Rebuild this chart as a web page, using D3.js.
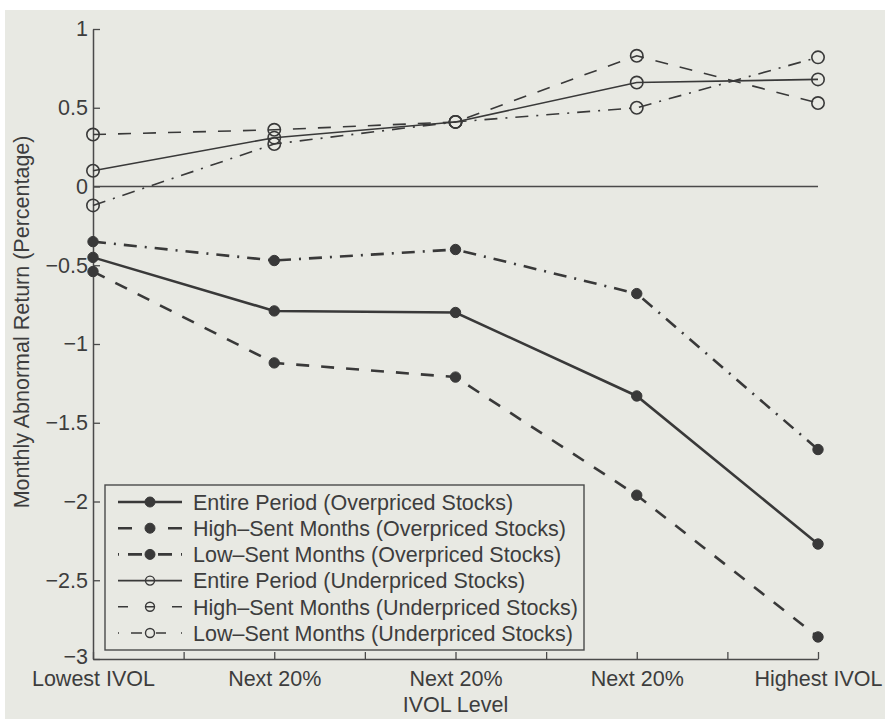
<!DOCTYPE html>
<html>
<head>
<meta charset="utf-8">
<script src="https://cdn.jsdelivr.net/npm/d3@7"></script>
<style>
  html, body { margin: 0; padding: 0; background: #ffffff; }
  svg { display: block; }
  text { font-family: "Liberation Sans", Arial, Helvetica, sans-serif; fill: #3d3d3d; }
</style>
</head>
<body>
<svg id="chart" width="885" height="719"></svg>
<script>
// IVOL quintiles, lowest to highest
const categories = ["Lowest IVOL", "Next 20%", "Next 20%", "Next 20%", "Highest IVOL"];

// Monthly abnormal returns (%), overpriced stocks
const overEntire = [-0.45, -0.79, -0.80, -1.33, -2.27];
const overHigh   = [-0.54, -1.12, -1.21, -1.96, -2.86];
const overLow    = [-0.35, -0.47, -0.40, -0.68, -1.67];

// Monthly abnormal returns (%), underpriced stocks
const underEntire = [0.10, 0.31, 0.41, 0.66, 0.68];
const underHigh   = [0.33, 0.36, 0.41, 0.83, 0.53];
const underLow    = [-0.12, 0.27, 0.41, 0.50, 0.82];

const yTicks = [-3, -2.5, -2, -1.5, -1, -0.5, 0, 0.5, 1];

const seriesNames = [
  "Entire Period (Overpriced Stocks)",
  "High\u2013Sent Months (Overpriced Stocks)",
  "Low\u2013Sent Months (Overpriced Stocks)",
  "Entire Period (Underpriced Stocks)",
  "High\u2013Sent Months (Underpriced Stocks)",
  "Low\u2013Sent Months (Underpriced Stocks)"
];

const ink = "#393939";
const paper = "#e8e9e3";
const fontSize = "21.5px";
const solid = null, dashed = "13,12", dashDot = "13,8,2,8";

// legend samples are 64px long, with the marker in the middle
const series = [
  { name: seriesNames[0], values: overEntire,  dash: solid,   key: null,                     filled: true,  width: 2.6 },
  { name: seriesNames[1], values: overHigh,    dash: dashed,  key: "14,36,14",               filled: true,  width: 2.6 },
  { name: seriesNames[2], values: overLow,     dash: dashDot, key: "1,9,14,16,14,9,1",       filled: true,  width: 2.6 },
  { name: seriesNames[3], values: underEntire, dash: solid,   key: null,                     filled: false, width: 1.6 },
  { name: seriesNames[4], values: underHigh,   dash: dashed,  key: "10,17,10,17,10",         filled: false, width: 1.6 },
  { name: seriesNames[5], values: underLow,    dash: dashDot, key: "1,12,11,14,10,15,1",     filled: false, width: 1.6 }
];

const svg = d3.select("#chart");

// paper background
svg.append("rect").attr("x", 5).attr("y", 10).attr("width", 880).attr("height", 709)
  .attr("fill", paper);

const x = d3.scaleLinear().domain([1, 5]).range([93, 818]);
const y = d3.scaleLinear().domain([-3, 1]).range([659, 29]);

// axes with inward ticks
const xAxis = d3.axisBottom(x)
  .tickValues(d3.range(1, 5.01, 0.5))
  .tickFormat(d => Number.isInteger(d) ? categories[d - 1] : "")
  .tickSizeInner(-7).tickSizeOuter(0).tickPadding(12);

const yAxis = d3.axisLeft(y)
  .tickValues(yTicks)
  .tickFormat(d3.format("~g"))
  .tickSizeInner(-7).tickSizeOuter(0).tickPadding(5);

function styleAxis(g) {
  g.select(".domain").attr("stroke", "#4a4a4a").attr("stroke-width", 1.5);
  g.selectAll(".tick line").attr("stroke", "#4a4a4a").attr("stroke-width", 1.3);
  g.selectAll(".tick text").attr("fill", "#3d3d3d").style("font-size", fontSize)
    .style("font-family", "'Liberation Sans', Arial, sans-serif");
}

svg.append("g").attr("transform", `translate(0,${y(-3)})`).call(xAxis).call(styleAxis);
const gy = svg.append("g").attr("transform", `translate(${x(1)},0)`).call(yAxis).call(styleAxis);
// lift the bottom value label a little off the category label beneath it
gy.selectAll(".tick text").filter(d => d === -3).attr("dy", "0.22em");

// zero reference line
svg.append("line")
  .attr("x1", x(1)).attr("x2", x(5))
  .attr("y1", y(0)).attr("y2", y(0))
  .attr("stroke", "#4a4a4a").attr("stroke-width", 1.4);

// axis titles
svg.append("text")
  .attr("x", x(3)).attr("y", 712)
  .attr("text-anchor", "middle").style("font-size", fontSize)
  .text("IVOL Level");

svg.append("text")
  .attr("transform", `translate(29,${y(-0.86)}) rotate(-90)`)
  .attr("text-anchor", "middle").style("font-size", fontSize)
  .text("Monthly Abnormal Return (Percentage)");

// series lines and markers
const line = d3.line().x((d, i) => x(i + 1)).y(d => y(d));

series.forEach(s => {
  svg.append("path")
    .datum(s.values)
    .attr("d", line)
    .attr("fill", "none")
    .attr("stroke", ink)
    .attr("stroke-width", s.width)
    .attr("stroke-dasharray", s.dash);

  svg.selectAll(null)
    .data(s.values)
    .enter().append("circle")
    .attr("cx", (d, i) => x(i + 1))
    .attr("cy", d => y(d))
    .attr("r", s.filled ? 5.2 : 6.2)
    .attr("fill", s.filled ? ink : "none")
    .attr("stroke", ink)
    .attr("stroke-width", s.filled ? 1 : 1.6);
});

// legend
const legend = svg.append("g");
legend.append("rect")
  .attr("x", 105).attr("y", 485).attr("width", 479).attr("height", 165)
  .attr("fill", paper).attr("stroke", "#4a4a4a").attr("stroke-width", 1.4);

series.forEach((s, i) => {
  const yy = 502 + i * 26.2;
  legend.append("line")
    .attr("x1", 118).attr("x2", 182).attr("y1", yy).attr("y2", yy)
    .attr("stroke", ink).attr("stroke-width", s.width)
    .attr("stroke-dasharray", s.key);
  legend.append("circle")
    .attr("cx", 150).attr("cy", yy)
    .attr("r", s.filled ? 5 : 4.5)
    .attr("fill", s.filled ? ink : "none")
    .attr("stroke", ink).attr("stroke-width", s.filled ? 1 : 1.4);
  legend.append("text")
    .attr("x", 193).attr("y", yy).attr("dy", "0.36em")
    .style("font-size", fontSize)
    .text(s.name);
});
</script>
</body>
</html>
